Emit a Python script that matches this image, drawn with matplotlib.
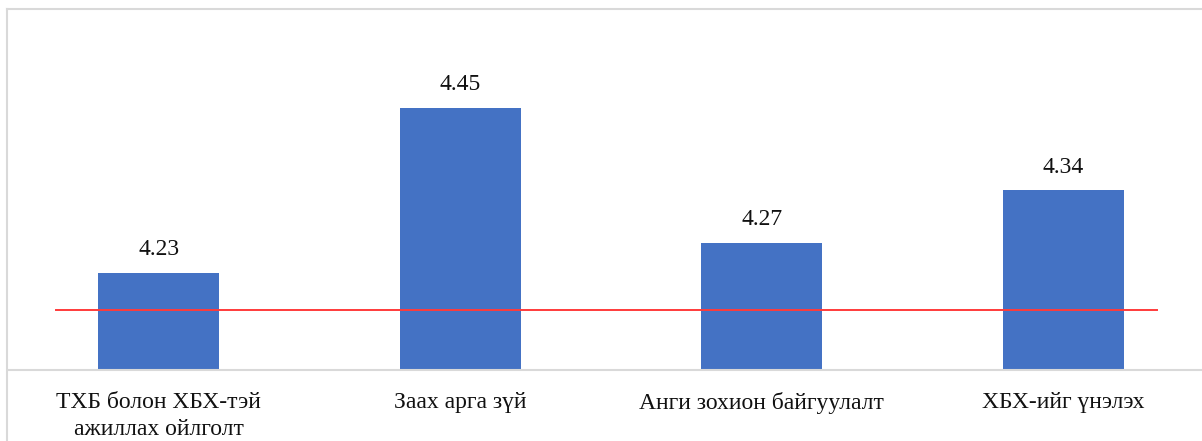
import matplotlib.pyplot as plt
from matplotlib.lines import Line2D
import numpy as np

categories = ["ТХБ болон ХБХ-тэй\nажиллах ойлголт", "Заах арга зүй",
              "Анги зохион байгуулалт", "ХБХ-ийг үнэлэх"]
values = [4.23, 4.45, 4.27, 4.34]
reference = 4.18

plt.rcParams['font.family'] = ['Liberation Serif', 'DejaVu Serif']

W, H = 1202, 441
fig = plt.figure(figsize=(W / 100, H / 100), dpi=100)
ax = fig.add_axes([8 / W, (H - 370) / H, 1206 / W, 361 / H])

x = np.arange(len(categories))
ax.bar(x, values, width=0.4, color='#4472C4', zorder=2)
for xi, v in zip(x, values):
    ax.annotate(f"{v:.2f}", (xi, v), xytext=(0, 9), textcoords='offset points',
                ha='center', va='bottom', fontsize=17, color='#111111')

ax.plot([-0.34, 3.31], [reference, reference], color='#ff3b3b', lw=1.4, zorder=3)

ax.set_xlim(-0.5, 3.5)
ax.set_ylim(4.1, 4.1 + 361 / 750)
ax.set_xticks(x)
ax.set_xticklabels(categories, fontsize=17, color='#111111', linespacing=1.35)
ax.tick_params(axis='x', length=0, pad=16)
ax.set_yticks([])
for s in ['top', 'left', 'right']:
    ax.spines[s].set_visible(False)
ax.spines['bottom'].set_color('#d9d9d9')
ax.spines['bottom'].set_linewidth(1.5)

# chart border (top and left)
fig.add_artist(Line2D([7 / W, 7 / W], [0, (H - 9) / H], color='#d9d9d9', lw=1.5))
fig.add_artist(Line2D([7 / W, 1], [(H - 9) / H, (H - 9) / H], color='#d9d9d9', lw=1.5))

fig.savefig('out.png', dpi=100)
